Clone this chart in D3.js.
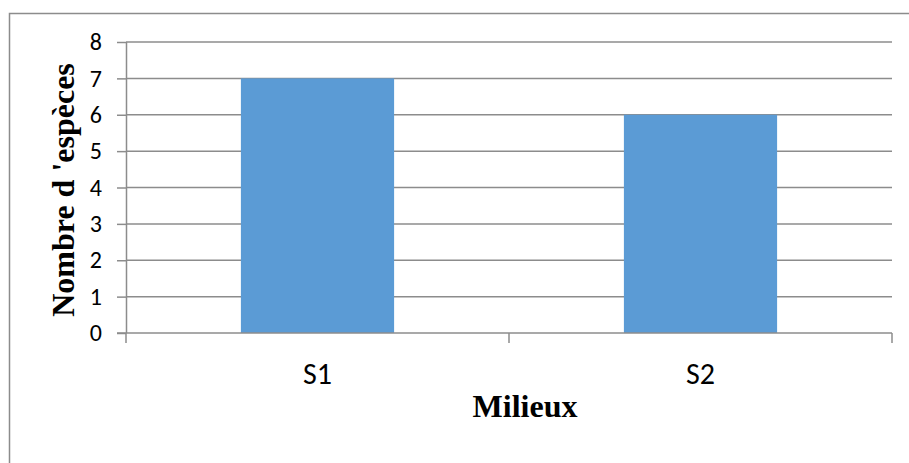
<!DOCTYPE html>
<html>
<head>
<meta charset="utf-8">
<script src="https://cdn.jsdelivr.net/npm/d3@7"></script>
<style>
  body { margin: 0; background: #fff; }
  svg { display: block; }
</style>
</head>
<body>
<svg id="chart"></svg>
<script>
const categories = ["S1", "S2"];
const values = [7, 6];
const yTicks = [0, 1, 2, 3, 4, 5, 6, 7, 8];

const width = 909, height = 463;
const margin = { top: 42, right: 17, bottom: 130, left: 126 };
const plotW = width - margin.left - margin.right;
const plotH = height - margin.top - margin.bottom;

const svg = d3.select("#chart")
    .attr("width", width)
    .attr("height", height);

// outer frame (cut at right and bottom)
svg.append("path")
    .attr("d", "M9.5,470 V13.5 H920")
    .attr("fill", "none")
    .attr("stroke", "#8c8c8c")
    .attr("stroke-width", 1.5);

const g = svg.append("g")
    .attr("transform", `translate(${margin.left},${margin.top})`);

const x = d3.scaleBand()
    .domain(categories)
    .range([0, plotW])
    .paddingInner(0.6)
    .paddingOuter(0.3);

const y = d3.scaleLinear()
    .domain([0, 8])
    .range([plotH, 0]);

const gridColor = "#8c8c8c";
const labelFont = "Carlito, 'Open Sans', 'Noto Sans', sans-serif";

// gridlines
g.selectAll(".grid")
    .data(yTicks.filter(d => d > 0))
    .join("line")
    .attr("x1", 0)
    .attr("x2", plotW)
    .attr("y1", d => y(d))
    .attr("y2", d => y(d))
    .attr("stroke", gridColor)
    .attr("stroke-width", 1.5);

// bars
g.selectAll(".bar")
    .data(values)
    .join("rect")
    .attr("x", (d, i) => x(categories[i]))
    .attr("y", d => y(d))
    .attr("width", x.bandwidth())
    .attr("height", d => y(0) - y(d))
    .attr("fill", "#5b9bd5");

// y axis
const yAxis = g.append("g")
    .call(d3.axisLeft(y).tickValues(yTicks).tickSize(9).tickPadding(15));
yAxis.select(".domain").attr("stroke", gridColor).attr("stroke-width", 1.5).attr("d", `M0.5,${plotH}V0`);
yAxis.selectAll(".tick line").attr("stroke", gridColor).attr("stroke-width", 1.5);
yAxis.selectAll(".tick text")
    .attr("fill", "#000")
    .style("font-family", labelFont)
    .style("font-size", "24px");

// x axis
const xAxis = g.append("g")
    .attr("transform", `translate(0,${plotH})`)
    .call(d3.axisBottom(x).tickSize(0).tickPadding(0));
xAxis.select(".domain").remove();
xAxis.selectAll(".tick text")
    .attr("dy", null)
    .attr("y", 51)
    .attr("fill", "#000")
    .style("font-family", labelFont)
    .style("font-size", "30px");

g.append("line")
    .attr("x1", -9).attr("x2", plotW)
    .attr("y1", plotH).attr("y2", plotH)
    .attr("stroke", gridColor).attr("stroke-width", 1.5);

// category boundary ticks
g.selectAll(".xtick")
    .data([0, plotW / 2, plotW])
    .join("line")
    .attr("x1", d => d).attr("x2", d => d)
    .attr("y1", plotH).attr("y2", plotH + 10)
    .attr("stroke", gridColor).attr("stroke-width", 1.5);

// axis titles
svg.append("text")
    .attr("x", 525)
    .attr("y", 417)
    .attr("text-anchor", "middle")
    .style("font-family", "'Liberation Serif', 'Times New Roman', serif")
    .style("font-weight", "bold")
    .style("font-size", "32px")
    .text("Milieux");

svg.append("text")
    .attr("transform", `translate(74,190) rotate(-90)`)
    .attr("text-anchor", "middle")
    .style("font-family", "'Liberation Serif', 'Times New Roman', serif")
    .style("font-weight", "bold")
    .style("font-size", "32px")
    .text("Nombre d 'espèces");
</script>
</body>
</html>
